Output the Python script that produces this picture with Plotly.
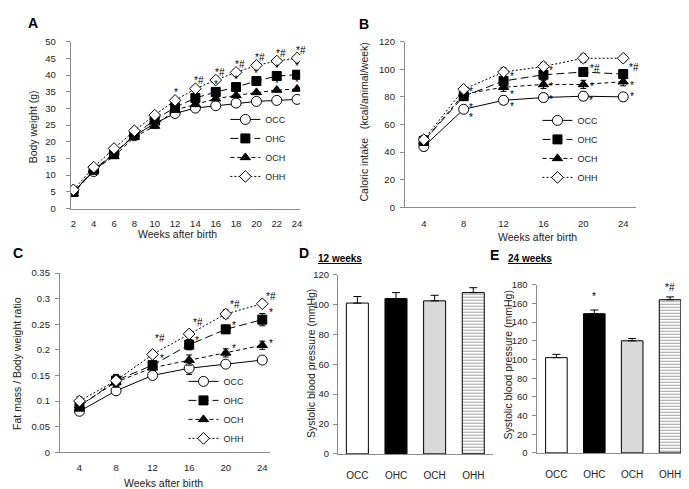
import plotly.graph_objects as go

W, H = 689, 489
FONT = "Liberation Sans, Arial, sans-serif"
AXC = "#8c8c8c"
TXT = "#222222"


def px(x):
    return x / W


def py(y):
    return 1 - y / H


# ---------------- data ----------------
series = ["OCC", "OHC", "OCH", "OHH"]

# A: body weight (g)
weeks_a = [2, 4, 6, 8, 10, 12, 14, 16, 18, 20, 22, 24]
bw_occ = [5.1, 11.1, 16.5, 21.8, 25.5, 28.5, 30.1, 30.8, 31.6, 32.1, 32.4, 32.7]
bw_ohc = [5.0, 11.6, 16.6, 22.0, 26.6, 30.3, 33.1, 34.9, 36.4, 38.2, 39.7, 40.1]
bw_och = [4.4, 11.6, 15.6, 21.4, 24.7, 29.5, 31.2, 32.9, 33.9, 34.8, 35.5, 35.8]
bw_ohh = [5.6, 12.4, 18.0, 23.3, 28.0, 32.4, 35.9, 38.5, 40.8, 42.9, 44.2, 45.1]

# B: caloric intake (kcal/animal/week)
weeks_b = [4, 8, 12, 16, 20, 24]
ci_occ = [44, 71, 77.5, 79.5, 80.5, 80]
ci_ohc = [48, 80.5, 91.5, 96, 98, 96.5]
ci_och = [48, 82, 87, 89, 89, 91]
ci_ohh = [49, 85.5, 98, 102, 108, 108]
ci_occ_err = [3, 2, 3, 3, 3, 3]
ci_ohc_err = [3, 3, 3, 3, 3, 3]
ci_och_err = [3, 3, 3, 3, 3, 3]
ci_ohh_err = [3, 2, 3, 3, 3, 2]

# C: fat mass / body weight ratio
weeks_c = [4, 8, 12, 16, 20, 24]
fr_occ = [0.08, 0.12, 0.15, 0.164, 0.172, 0.18]
fr_ohc = [0.089, 0.14, 0.17, 0.21, 0.24, 0.259]
fr_och = [0.091, 0.137, 0.165, 0.18, 0.194, 0.209]
fr_ohh = [0.10, 0.14, 0.191, 0.231, 0.27, 0.29]
fr_occ_err = [0.004, 0.005, 0.005, 0.012, 0.005, 0.005]
fr_ohc_err = [0.005, 0.012, 0.008, 0.01, 0.008, 0.012]
fr_och_err = [0.005, 0.01, 0.005, 0.01, 0.008, 0.008]
fr_ohh_err = [0.008, 0.01, 0.005, 0.005, 0.008, 0.005]

# D / E: systolic blood pressure (mmHg)
groups = ["OCC", "OHC", "OCH", "OHH"]
sbp_12 = [101, 104, 102.5, 108]
sbp_12_err = [4.4, 4, 3.7, 3.3]
sbp_24 = [102, 149, 120, 164]
sbp_24_err = [3.5, 4, 2.5, 3]

ticks_a = [2, 4, 6, 8, 10, 12, 14, 16, 18, 20, 22, 24]
ticks_bc = [4, 8, 12, 16, 20, 24]

# ---------------- styles ----------------
styles = {
    "OCC": dict(line=dict(color="black", width=1, dash="solid"),
                marker=dict(symbol="circle", size=10, color="white",
                            line=dict(color="black", width=1))),
    "OHC": dict(line=dict(color="black", width=1, dash="8px,4px"),
                marker=dict(symbol="square", size=9, color="black",
                            line=dict(color="black", width=1))),
    "OCH": dict(line=dict(color="black", width=1, dash="4px,3px"),
                marker=dict(symbol="triangle-up", size=9, color="black",
                            line=dict(color="black", width=1))),
    "OHH": dict(line=dict(color="black", width=1, dash="2px,2px"),
                marker=dict(symbol="diamond", size=9, color="white",
                            line=dict(color="black", width=1))),
}

fig = go.Figure()

data_a = dict(OCC=bw_occ, OHC=bw_ohc, OCH=bw_och, OHH=bw_ohh)
data_b = dict(OCC=ci_occ, OHC=ci_ohc, OCH=ci_och, OHH=ci_ohh)
err_b = dict(OCC=ci_occ_err, OHC=ci_ohc_err, OCH=ci_och_err, OHH=ci_ohh_err)
data_c = dict(OCC=fr_occ, OHC=fr_ohc, OCH=fr_och, OHH=fr_ohh)
err_c = dict(OCC=fr_occ_err, OHC=fr_ohc_err, OCH=fr_och_err, OHH=fr_ohh_err)

for s in series:
    fig.add_trace(go.Scatter(x=weeks_a, y=data_a[s], name=s, mode="lines+markers",
                             xaxis="x", yaxis="y", legend="legend", **styles[s]))
for s in series:
    fig.add_trace(go.Scatter(x=weeks_b, y=data_b[s], name=s, mode="lines+markers",
                             error_y=dict(type="data", array=err_b[s], color="black",
                                          thickness=1, width=3),
                             xaxis="x2", yaxis="y2", legend="legend2", **styles[s]))
for s in series:
    fig.add_trace(go.Scatter(x=weeks_c, y=data_c[s], name=s, mode="lines+markers",
                             error_y=dict(type="data", array=err_c[s], color="black",
                                          thickness=1, width=3),
                             xaxis="x3", yaxis="y3", legend="legend3", **styles[s]))

bar_colors = ["white", "black", "#d9d9d9", "white"]
bar_pattern = dict(shape=["", "", "", "-"], fgcolor="black", bgcolor="white",
                   size=3, solidity=0.35)
for vals, errs, xa, ya in [(sbp_12, sbp_12_err, "x4", "y4"),
                           (sbp_24, sbp_24_err, "x5", "y5")]:
    fig.add_trace(go.Bar(x=groups, y=vals, width=0.57, showlegend=False,
                         marker=dict(color=bar_colors, pattern=bar_pattern,
                                     line=dict(color="black", width=1)),
                         error_y=dict(type="data", symmetric=False, array=errs,
                                      arrayminus=[0] * len(errs), color="black",
                                      thickness=1, width=4),
                         xaxis=xa, yaxis=ya))

# ---------------- axes ----------------
def yax(dom, rng, dtick, anchor, standoff, fmt=None):
    d = dict(domain=[py(dom[1]), py(dom[0])], range=rng, dtick=dtick, anchor=anchor,
             showline=True, linecolor=AXC, linewidth=1, ticks="outside", ticklen=4,
             tickcolor=AXC, showgrid=False, zeroline=False,
             tickfont=dict(family=FONT, size=9.5, color=TXT), ticklabelstandoff=standoff)
    if fmt:
        d["tickformat"] = fmt
    return d


def xax(dom, rng, anchor, tickvals=None, standoff=4, size=9.5):
    d = dict(domain=[px(dom[0]), px(dom[1])], range=rng, anchor=anchor,
             showline=True, linecolor=AXC, linewidth=1, ticks="", showgrid=False,
             zeroline=False, tickfont=dict(family=FONT, size=size, color=TXT),
             ticklabelstandoff=standoff)
    if tickvals is not None:
        d["tickvals"] = tickvals
    return d


fig.update_layout(
    width=W, height=H, margin=dict(l=0, r=0, t=0, b=0, pad=0),
    paper_bgcolor="white", plot_bgcolor="white",
    font=dict(family=FONT, color=TXT),
    bargap=0.43,
    xaxis=xax((63, 293), [1.75, 24.3], "y", ticks_a, 6),
    yaxis=yax((28.3, 199), [0, 50], 5, "x", 8),
    xaxis2=xax((398, 630), [2.1, 25.3], "y2", ticks_bc, 7),
    yaxis2=yax((28.3, 197.7), [0, 120], 20, "x2", 3),
    xaxis3=xax((52, 263), [1.85, 24.87], "y3", ticks_bc, 6),
    yaxis3=yax((265, 448.3), [0, 0.35], 0.05, "x3", 3),
    xaxis4=xax((331, 486), [-0.5, 3.5], "y4", None, 12, 10),
    yaxis4=yax((266.7, 450), [0, 120], 20, "x4", 2),
    xaxis5=xax((531, 683), [-0.5, 3.5], "y5", None, 12, 10),
    yaxis5=yax((277, 449), [0, 180], 20, "x5", 3),
)

leg_common = dict(font=dict(family=FONT, size=9, color=TXT), bgcolor="rgba(0,0,0,0)",
                  xanchor="left", yanchor="middle", tracegroupgap=0, itemsizing="trace",
                  itemwidth=30)
fig.update_layout(
    legend=dict(x=px(218), y=py(137), **leg_common),
    legend2=dict(x=px(531), y=py(138), **leg_common),
    legend3=dict(x=px(176), y=py(405), **leg_common),
)

# ---------------- text annotations ----------------
ann = []


def txt(x, y, text, size=10.5, angle=0, bold=False, color=TXT):
    t = f"<b>{text}</b>" if bold else text
    ann.append(dict(x=px(x), y=py(y), xref="paper", yref="paper", text=t,
                    showarrow=False, textangle=angle, xanchor="center", yanchor="middle",
                    font=dict(family=FONT, size=size, color=color)))


txt(25.5, 9.5, "A", 14, bold=True, color="black")
txt(357.5, 10, "B", 14, bold=True, color="black")
txt(10.5, 244, "C", 14, bold=True, color="black")
txt(297, 245, "D", 14, bold=True, color="black")
txt(487.5, 247, "E", 14, bold=True, color="black")

txt(333, 250, "<u>12 weeks</u>", 10, bold=True, color="black")
txt(523.5, 250, "<u>24 weeks</u>", 10, bold=True, color="black")

txt(25, 115, "Body weight (g)", 10.5, -90)
txt(357, 110, "Caloric intake&nbsp;&nbsp;&nbsp;(kcal/animal/week)", 10.5, -90)
txt(9, 357, "Fat mass / Body weight ratio", 10.5, -90)
txt(304, 358, "Systolic blood pressure (mmHg)", 10.5, -90)
txt(501, 359, "Systolic blood pressure (mmHg)", 10.5, -90)

txt(170, 225.5, "Weeks after birth", 10.5)
txt(531, 228.5, "Weeks after birth", 10.5)
txt(156, 479.5, "Weeks after birth", 10.5)

# significance marks placed relative to data points
STAR_DY = -1


def star(xa, ya, x, y, text, dx, dy):
    ann.append(dict(x=x, y=y, xref=xa, yref=ya, text=text, showarrow=False,
                    xshift=dx, yshift=dy + STAR_DY, xanchor="center", yanchor="middle",
                    font=dict(family=FONT, size=10, color="black")))


# panel A
star("x", "y", weeks_a[5], bw_ohh[5], "*", 1, 9)
for i in range(6, 12):
    star("x", "y", weeks_a[i], bw_ohh[i], "*#", 4, 9)
for i in range(7, 12):
    star("x", "y", weeks_a[i], bw_ohc[i], "*", 0, 9)
for i in range(9, 12):
    star("x", "y", weeks_a[i], bw_och[i], "*", 0, 8)

# panel B
b_marks = [
    ("OCC", 1, "*", 7, 3), ("OCC", 1, "*", 7, -7), ("OHC", 1, "*", 7, 6),
    ("OHH", 2, "*", 8, -3), ("OCH", 2, "*", 8, -6), ("OCC", 2, "*", 8, -5),
    ("OHH", 3, "*", 8, -3), ("OCH", 3, "*", 8, -1), ("OCC", 3, "*", 8, -1),
    ("OHC", 4, "*#", 12, 5), ("OCH", 4, "*", 9, -1), ("OCC", 4, "*", 8, -3),
    ("OHH", 5, "*#", 11, -8), ("OCH", 5, "*", 9, -3), ("OCC", 5, "*", 9, 1),
]
for s, i, t, dx, dy in b_marks:
    star("x2", "y2", weeks_b[i], data_b[s][i], t, dx, dy)

# panel C
c_marks = [
    ("OHH", 2, "*#", 7, 17), ("OHH", 3, "*#", 9, 12), ("OHH", 4, "*#", 9, 10),
    ("OHH", 5, "*#", 9, 8),
    ("OHC", 2, "*", 9, 8), ("OHC", 3, "*", 8, 5), ("OHC", 4, "*", 8, 5),
    ("OHC", 5, "*", 9, 8),
    ("OCH", 4, "*", 8, 5), ("OCH", 5, "*", 9, 3),
]
for s, i, t, dx, dy in c_marks:
    star("x3", "y3", weeks_c[i], data_c[s][i], t, dx, dy)

# panel E
star("x5", "y5", groups[1], sbp_24[1] + sbp_24_err[1], "*", 0, 14)
star("x5", "y5", groups[3], sbp_24[3] + sbp_24_err[3], "*#", 0, 10)

fig.update_layout(annotations=ann)

fig.write_html("out.html")
